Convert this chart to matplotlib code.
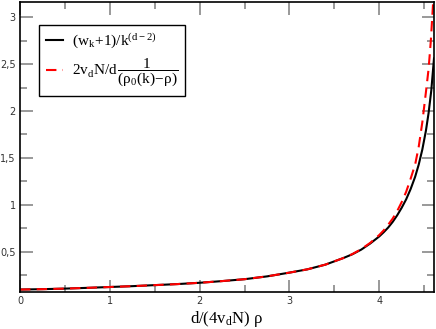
import matplotlib
matplotlib.use('Agg')
import matplotlib.pyplot as plt
from matplotlib.ticker import MultipleLocator, FuncFormatter

plt.rcParams['mathtext.fontset'] = 'custom'
plt.rcParams['mathtext.rm'] = 'Liberation Serif'
plt.rcParams['mathtext.it'] = 'Liberation Serif'

# values
x_black = [0.0, 0.25, 0.5, 0.75, 1.0, 1.25, 1.5, 1.75, 2.0, 2.25, 2.5, 2.75, 3.0,
           3.2, 3.4, 3.6, 3.7, 3.8, 3.9, 4.0, 4.05, 4.1, 4.15, 4.2, 4.25, 4.3,
           4.35, 4.4, 4.44, 4.48, 4.52, 4.55, 4.58, 4.61]
y_black = [0.100, 0.104, 0.110, 0.118, 0.127, 0.136, 0.147, 0.158, 0.172, 0.190,
           0.210, 0.240, 0.280, 0.315, 0.365, 0.435, 0.475, 0.525, 0.590, 0.665,
           0.710, 0.760, 0.820, 0.890, 0.970, 1.060, 1.170, 1.300, 1.430, 1.590,
           1.790, 1.980, 2.220, 2.560]

x_red = [0.0, 0.25, 0.5, 0.75, 1.0, 1.25, 1.5, 1.75, 2.0, 2.25, 2.5, 2.75, 3.0,
         3.2, 3.4, 3.6, 3.7, 3.8, 3.9, 4.0, 4.05, 4.1, 4.15, 4.2, 4.25, 4.3,
         4.35, 4.4, 4.44, 4.48, 4.52, 4.55, 4.575, 4.6, 4.61]
y_red = [0.100, 0.104, 0.110, 0.118, 0.127, 0.136, 0.147, 0.158, 0.172, 0.190,
         0.210, 0.240, 0.280, 0.315, 0.365, 0.435, 0.477, 0.530, 0.597, 0.680,
         0.730, 0.790, 0.855, 0.935, 1.030, 1.140, 1.280, 1.430, 1.620, 1.880,
         2.200, 2.450, 2.750, 3.150, 3.350]

fig = plt.figure(figsize=(4.36, 3.29), dpi=100)
ax = fig.add_axes([0.0459, 0.1125, 0.9495, 0.8814])

ax.plot(x_black, y_black, color='black', lw=1.5,
        label=r'$\mathrm{(w_k\!+\!1)/k^{(d-2)}}$')
ax.plot(x_red, y_red, color='red', lw=1.5, dashes=(5, 3),
        label=r'$\mathrm{2v_dN/d\,\dfrac{1}{(\rho_0(k)\!-\!\rho)}}$')

ax.set_xlim(0, 4.61)
ax.set_ylim(0.074, 3.16)

ax.xaxis.set_major_locator(MultipleLocator(1))
ax.xaxis.set_minor_locator(MultipleLocator(0.5))
ax.yaxis.set_major_locator(MultipleLocator(0.5))
ax.yaxis.set_minor_locator(MultipleLocator(0.25))
ax.yaxis.set_major_formatter(FuncFormatter(lambda v, p: ('%g' % v).replace('.', ',')))
ax.tick_params(which='both', direction='in', top=True, right=True,
               color='#888888', labelsize=7, labelcolor='#333333', pad=3)
ax.tick_params(which='major', length=9, width=1.2)
ax.tick_params(which='minor', length=5, width=1.2)
for s in ax.spines.values():
    s.set_linewidth(1.2)

ax.set_xlabel(r'$\mathrm{d/(4v_dN)\ \rho}$', fontsize=12, labelpad=2)

leg = ax.legend(loc='upper left', bbox_to_anchor=(0.046, 0.922), fontsize=11,
                fancybox=False, framealpha=1, edgecolor='black',
                handlelength=1.1, handletextpad=0.6, borderpad=0.45,
                labelspacing=0.45, borderaxespad=0)
leg.get_frame().set_linewidth(1.0)

fig.savefig('out.png', dpi=100)
